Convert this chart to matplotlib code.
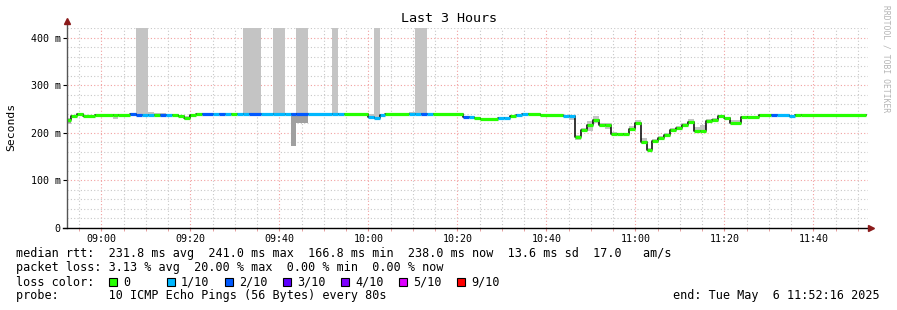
import matplotlib
matplotlib.use("Agg")
from matplotlib import pyplot as plt, dates as mdates
from matplotlib.patches import Rectangle
from matplotlib.ticker import FixedLocator, FuncFormatter
from datetime import datetime as dt, timedelta

# Graph window
START = dt(2025, 5, 6, 8, 52, 16)
END = dt(2025, 5, 6, 11, 52, 16)
FIRST_STEP = dt(2025, 5, 6, 8, 53, 10)   # first full rrd step
STEP = 80                                # seconds per rrd step
LAST_STEP = 134
YMAX = 421

# Data: run-length segments (start = step index from FIRST_STEP)
seg_start = [-1, 0, 1, 2, 4, 7, 8, 10, 11, 12, 13, 14, 15, 16, 17, 18, 19, 20, 21, 22,
             24, 25, 26, 27, 28, 29, 30, 32, 34, 36, 37, 38, 40, 44, 45, 46, 50, 51, 52, 53,
             57, 58, 59, 60, 61, 66, 67, 68, 69, 72, 73, 74, 75, 76, 77, 79, 83, 84, 85, 86,
             87, 88, 89, 90, 91, 92, 93, 94, 95, 96, 97, 98, 99, 100, 101, 102, 103, 104, 105, 106,
             107, 108, 109, 110, 111, 113, 114, 116, 118, 119, 121, 122, 123]
median_ms = [228, 236, 239, 236, 238, 238, 238, 239, 238, 238, 238, 238, 238, 238, 238, 236, 231, 237, 239, 239,
             239, 239, 239, 239, 239, 239, 239, 239, 239, 239, 239, 239, 239, 239, 239, 239, 233, 231, 238, 239,
             239, 240, 240, 240, 241, 233, 233, 232, 230, 231, 232, 236, 238, 240, 241, 237, 236, 235, 191, 206,
             216, 228, 217, 217, 198, 198, 197, 208, 220, 181, 164, 184, 190, 195, 206, 210, 216, 224, 204, 204,
             226, 228, 235, 231, 222, 233, 234, 237, 238, 238, 236, 237, 238]
loss = [0, 0, 0, 0, 0, 0, 0, 2, 2, 1, 1, 0, 2, 1, 0, 0, 0, 0, 0, 2,
        1, 2, 1, 0, 1, 1, 2, 1, 1, 1, 2, 2, 1, 1, 1, 0, 1, 1, 1, 0,
        1, 1, 2, 1, 0, 2, 1, 0, 0, 1, 1, 0, 1, 1, 0, 0, 1, 1, 0, 0,
        0, 0, 0, 0, 0, 0, 0, 0, 0, 0, 0, 0, 0, 0, 0, 0, 0, 0, 0, 0,
        0, 0, 0, 0, 0, 0, 0, 0, 2, 1, 1, 0, 0]
smoke_lo = [219, 234, 237, 233, 236, 230, 236, 237, 236, 236, 236, 233, 233, 236, 236, 234, 228, 234, 237, 237,
            237, 237, 237, 237, 237, 237, 237, 237, 237, 237, 237, 237, 237, 237, 237, 237, 231, 229, 236, 237,
            237, 238, 238, 238, 239, 231, 231, 230, 228, 229, 230, 234, 236, 238, 239, 235, 234, 228, 186, 203,
            205, 220, 212, 209, 195, 195, 194, 204, 216, 176, 162, 181, 188, 192, 203, 206, 213, 221, 203, 203,
            222, 224, 233, 228, 220, 231, 230, 235, 236, 236, 234, 235, 236]
smoke_hi = [232, 238, 240, 238, 240, 240, 240, 240, 1000, 1000, 245, 243, 243, 240, 240, 238, 236, 238, 240, 240,
            240, 240, 240, 240, 240, 1000, 1000, 240, 1000, 240, 240, 1000, 240, 1000, 240, 240, 240, 1000, 240, 240,
            245, 1000, 1000, 241, 242, 234, 234, 233, 231, 232, 233, 237, 239, 241, 242, 238, 237, 236, 196, 210,
            226, 235, 222, 222, 203, 201, 200, 214, 227, 189, 168, 188, 194, 200, 210, 215, 222, 230, 212, 216,
            230, 232, 238, 233, 228, 236, 236, 238, 239, 239, 237, 238, 239]
# darker inner smoke
dark_start = [-1, 37, 38]
dark_lo = [221, 173, 222]
dark_hi = [230, 239, 239]

# Loss colours and legend
loss_levels = [0, 1, 2, 3, 4, 5, 9]
loss_labels = ["0", "1/10", "2/10", "3/10", "4/10", "5/10", "9/10"]
loss_colors = ["#26ff00", "#00b8ff", "#0059ff", "#5e00ff", "#7e00ff", "#dd00ff", "#ff0000"]

TITLE = "Last 3 Hours"
YLABEL = "Seconds"
WATERMARK = "RRDTOOL / TOBI OETIKER"
LEGEND_RTT = "median rtt:  231.8 ms avg  241.0 ms max  166.8 ms min  238.0 ms now  13.6 ms sd  17.0   am/s"
LEGEND_LOSS = "packet loss: 3.13 % avg  20.00 % max  0.00 % min  0.00 % now"
LEGEND_PROBE = "probe:       10 ICMP Echo Pings (56 Bytes) every 80s"
LEGEND_END = "end: Tue May  6 11:52:16 2025"

FONT = "DejaVu Sans Mono"
W, H = 897, 310
plt.rcParams['font.family'] = FONT


def step_num(k):
    return mdates.date2num(FIRST_STEP + timedelta(seconds=STEP * k))


def color_of(l):
    return loss_colors[loss_levels.index(l)] if l in loss_levels else loss_colors[-1]


def fx(px):
    return px / W


def fy(py):
    return 1 - py / H


fig = plt.figure(figsize=(W / 100, H / 100), dpi=100)
ax = fig.add_axes([fx(67), fy(228), 801 / W, 200 / H])

seg_end = seg_start[1:] + [LAST_STEP]
xs = [step_num(k) for k in seg_start]
xe = [step_num(k) for k in seg_end]

# smoke
ax.bar(xs, [h - l for l, h in zip(smoke_lo, smoke_hi)], bottom=smoke_lo,
       width=[b - a for a, b in zip(xs, xe)], align='edge', color='#c4c4c4', linewidth=0, zorder=1)
dxs = [step_num(k) for k in dark_start]
dxe = [xe[seg_start.index(k)] for k in dark_start]
ax.bar(dxs, [h - l for l, h in zip(dark_lo, dark_hi)], bottom=dark_lo,
       width=[b - a for a, b in zip(dxs, dxe)], align='edge', color='#a0a0a0', linewidth=0, zorder=1.5)

# median line: black step + loss coloured segments
ax.step(xs + [xe[-1]], median_ms + [median_ms[-1]], where='post', color='black', lw=1.1, zorder=2)
ax.hlines(median_ms, xs, xe, colors=[color_of(l) for l in loss], lw=2.3, capstyle='butt', zorder=3)

# axes, grid
ax.set_xlim(START, END)
ax.set_ylim(0, YMAX)
for s in ax.spines.values():
    s.set_visible(False)

ax.xaxis.set_major_locator(mdates.MinuteLocator(byminute=[0, 20, 40]))
ax.xaxis.set_minor_locator(mdates.MinuteLocator(byminute=range(0, 60, 5)))
ax.xaxis.set_major_formatter(mdates.DateFormatter("%H:%M"))
ax.yaxis.set_major_locator(FixedLocator([0, 100, 200, 300, 400]))
ax.yaxis.set_minor_locator(FixedLocator(range(20, 421, 20)))
ax.yaxis.set_major_formatter(FuncFormatter(lambda v, p: "0" if v == 0 else "%d m" % v))

ax.grid(which='minor', color='#c8c8c8', linestyle=(0, (1, 2)), lw=0.8)
ax.grid(which='major', color='#f2a0a0', linestyle=(0, (1, 2)), lw=0.8)
ax.set_axisbelow(True)

ax.tick_params(axis='x', which='both', length=2, color='#e09090', pad=2.5, labelsize=7.2)
ax.tick_params(axis='y', which='major', length=3, color='black', pad=1.5, labelsize=7.2)
ax.tick_params(axis='y', which='minor', length=0)

# axis lines with arrows
ax.plot([0, 0], [0, 1.03], transform=ax.transAxes, color='#555555', lw=1, clip_on=False, zorder=5)
ax.plot([-4 / 801, 1.002], [0, 0], transform=ax.transAxes, color='black', lw=1, clip_on=False, zorder=5)
ax.plot([0], [1.035], transform=ax.transAxes, marker='^', color='#8b1a1a', ms=4, clip_on=False, zorder=6)
ax.plot([1.004], [0], transform=ax.transAxes, marker='>', color='#8b1a1a', ms=4, clip_on=False, zorder=6)

# texts
fig.text(0.5, fy(19), TITLE, ha='center', va='center', fontsize=9.6)
fig.text(fx(11), fy(127), YLABEL, ha='center', va='center', rotation=90, fontsize=8.2)
fig.text(fx(886), fy(59), WATERMARK, ha='center', va='center', rotation=270, fontsize=5.8, color='#b4b4b4')

LEGEND_SIZE = 8.5
fig.text(fx(16), fy(254), LEGEND_RTT, va='center', fontsize=LEGEND_SIZE)
fig.text(fx(16), fy(268), LEGEND_LOSS, va='center', fontsize=LEGEND_SIZE)
fig.text(fx(16), fy(282), "loss color:", va='center', fontsize=LEGEND_SIZE)
for i, (lab, col) in enumerate(zip(loss_labels, loss_colors)):
    bx = 109 + i * 58
    fig.patches.append(Rectangle((fx(bx), fy(286)), 8 / W, 8 / H, transform=fig.transFigure,
                                 facecolor=col, edgecolor='black', lw=0.8))
    fig.text(fx(bx + 14), fy(282), lab, va='center', fontsize=LEGEND_SIZE)
fig.text(fx(16), fy(296), LEGEND_PROBE, va='center', fontsize=LEGEND_SIZE)
fig.text(fx(880), fy(296), LEGEND_END, ha='right', va='center', fontsize=LEGEND_SIZE)

fig.savefig("out.png", dpi=100)
